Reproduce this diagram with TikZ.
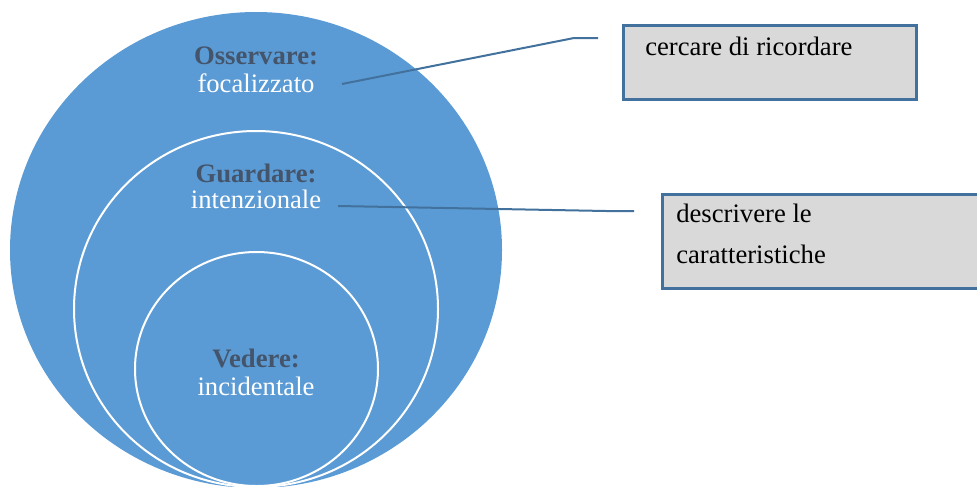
\documentclass[tikz,border=0pt]{standalone}
\usepackage{fontspec}
\setmainfont{Liberation Serif}
\usepackage{tikz}
\definecolor{ringblue}{HTML}{5B9BD5}
\definecolor{slate}{HTML}{44546A}
\definecolor{linkblue}{HTML}{41719C}
\definecolor{boxgray}{HTML}{D9D9D9}
\tikzset{
    every node/.style={inner sep=0pt, font=\fontsize{20pt}{24pt}\selectfont},
    ring/.style={fill=ringblue, draw=white, line width=1.5pt},
    head/.style={anchor=base, text=slate, font=\fontsize{20pt}{24pt}\selectfont\bfseries},
    word/.style={anchor=base, text=white},
    note/.style={anchor=base west, text=black},
    box/.style={anchor=north west, rectangle, draw=linkblue, fill=boxgray, line width=2pt},
    link/.style={draw=linkblue, line width=1.5pt}
}

\begin{document}
\begin{tikzpicture}[x=0.75pt, y=-0.75pt]
    \useasboundingbox (0,0) rectangle (977,486);

    \fill[ringblue] (256,250) ellipse [x radius=246, y radius=238];
    \draw[ring] (256,309) ellipse [x radius=182, y radius=178];
    \draw[ring] (256.5,369) ellipse [x radius=121.5, y radius=117];

    \node (osserv) [head] at (256,64) {Osservare:};
    \node (focal) [word] at (256,92) {focalizzato};
    \node (guard) [head] at (256,182) {Guardare:};
    \node (intenz) [word] at (256,208) {intenzionale};
    \node (vedere) [head] at (256,367) {Vedere:};
    \node (incid) [word] at (256,395) {incidentale};

    \node (box1) [box, minimum width=219.75pt, minimum height=55.5pt] at (622,24) {};
    \node (ricord) [note] at (645,55) {cercare di ricordare};
    \node (box2) [box, minimum width=247.5pt, minimum height=70.5pt] at (661,193) {};
    \node (descr) [note] at (676,222) {descrivere le};
    \node (caratt) [note] at (676,263) {caratteristiche};

    \coordinate (f0) at (342,84);
    \coordinate (f1) at (574,38);
    \coordinate (f2) at (598,38);
    \coordinate (i0) at (338,206);
    \coordinate (i1) at (606,211);
    \coordinate (i2) at (634,211);

  \draw[link] (f0) -- (f1) -- (f2);
  \draw[link] (i0) -- (i1) -- (i2);
\end{tikzpicture}
\end{document}
